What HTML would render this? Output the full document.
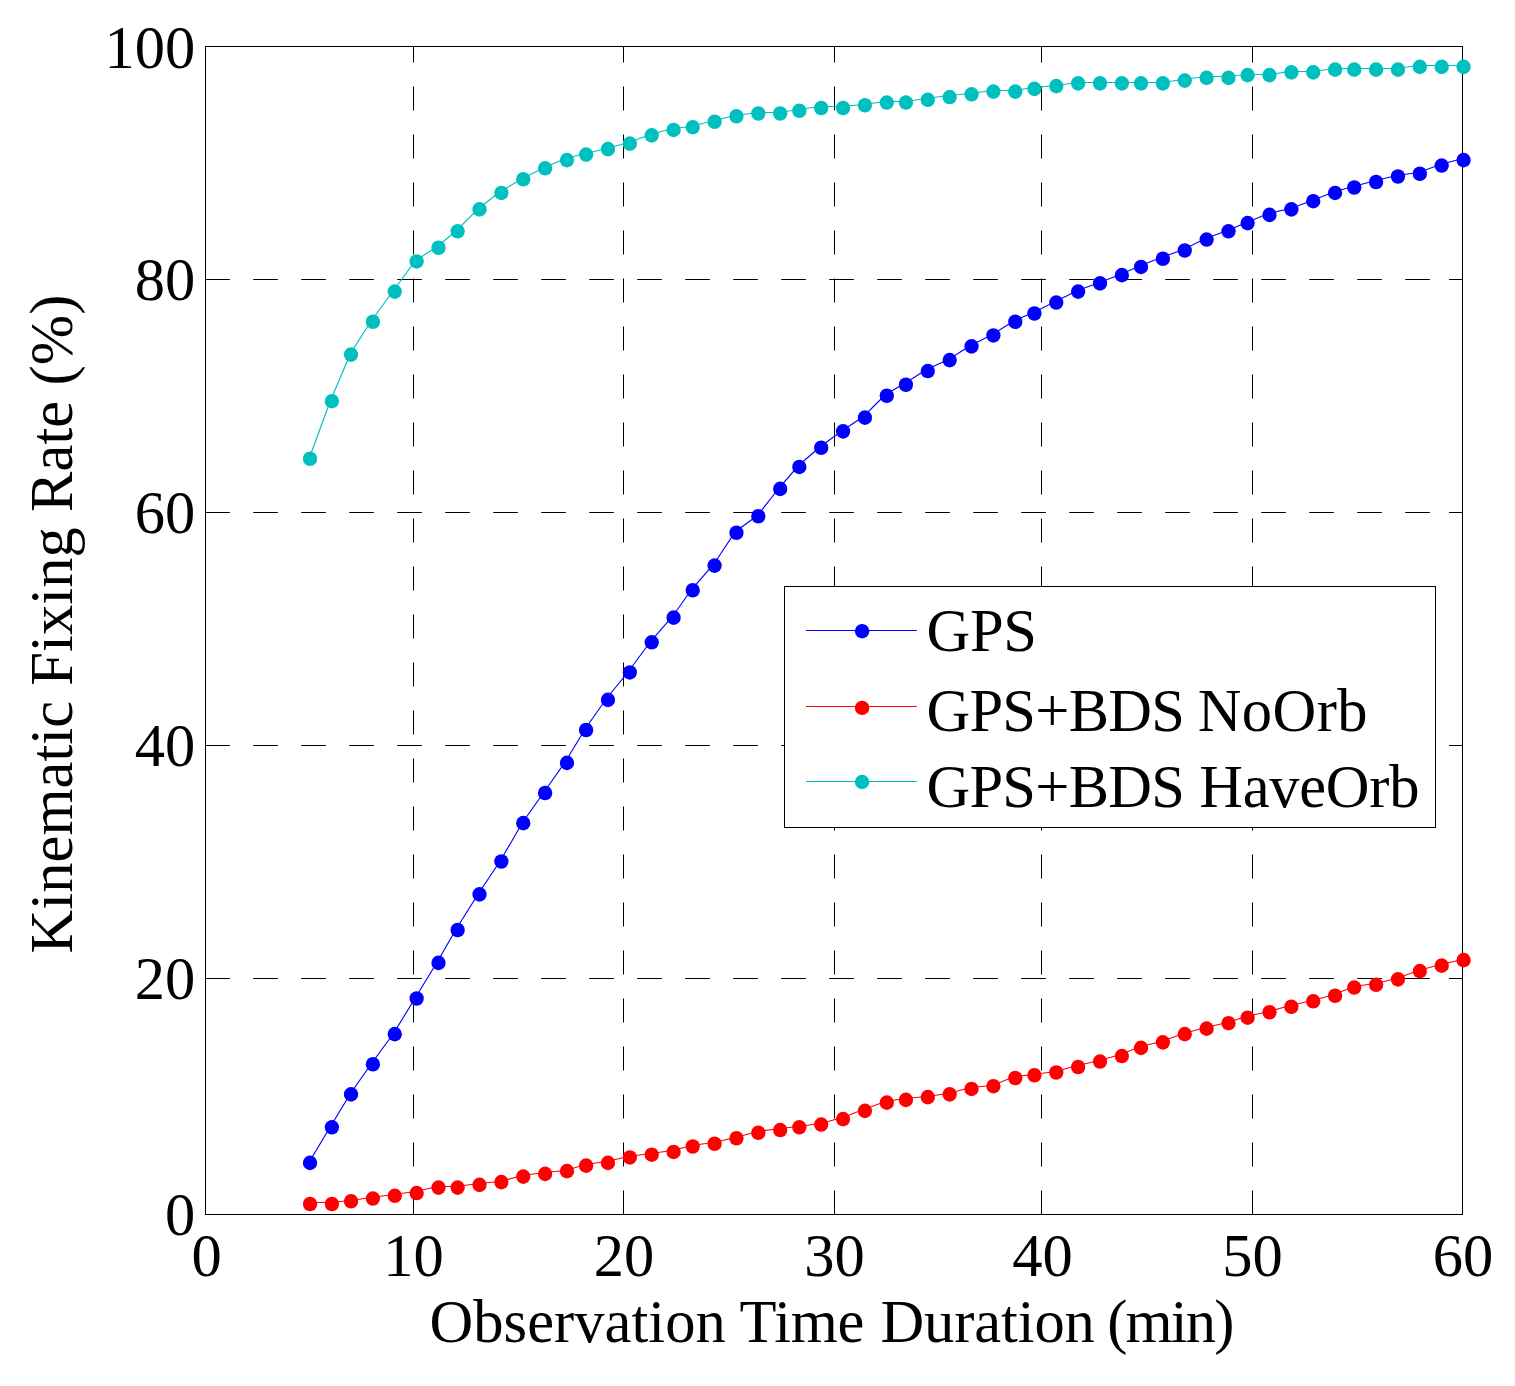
<!DOCTYPE html>
<html lang="en"><head><meta charset="utf-8"><title>Kinematic Fixing Rate</title>
<style>
html,body{margin:0;padding:0;background:#fff;}
body{width:1515px;height:1386px;overflow:hidden;}
svg{display:block;}
text{font-family:"Liberation Serif","Times New Roman",serif;fill:#000;}
</style></head><body>
<svg width="1515" height="1386" viewBox="0 0 1515 1386">
<rect x="0" y="0" width="1515" height="1386" fill="#fff"/>
<g stroke="#000" stroke-width="1" fill="none">
<line x1="413.5" y1="1214.5" x2="413.5" y2="46.5" stroke-dasharray="24 24"/>
<line x1="623.5" y1="1214.5" x2="623.5" y2="46.5" stroke-dasharray="24 24"/>
<line x1="834.5" y1="1214.5" x2="834.5" y2="46.5" stroke-dasharray="24 24"/>
<line x1="1041.5" y1="1214.5" x2="1041.5" y2="46.5" stroke-dasharray="24 24"/>
<line x1="1252.5" y1="1214.5" x2="1252.5" y2="46.5" stroke-dasharray="24 24"/>
<line x1="205.2" y1="279.5" x2="1462.5" y2="279.5" stroke-dasharray="24.7 23.3"/>
<line x1="1449" y1="279.5" x2="1462.5" y2="279.5"/>
<line x1="205.2" y1="512.5" x2="1462.5" y2="512.5" stroke-dasharray="24.7 23.3"/>
<line x1="1449" y1="512.5" x2="1462.5" y2="512.5"/>
<line x1="205.2" y1="745.5" x2="1462.5" y2="745.5" stroke-dasharray="24.7 23.3"/>
<line x1="1449" y1="745.5" x2="1462.5" y2="745.5"/>
<line x1="205.2" y1="978.5" x2="1462.5" y2="978.5" stroke-dasharray="24.7 23.3"/>
<line x1="1449" y1="978.5" x2="1462.5" y2="978.5"/>
<rect x="205.5" y="46.5" width="1257.0" height="1168.0"/>
</g>
<g font-size="60.5" text-anchor="end">
<text transform="translate(195.2 68.25) scale(1 1.03)">100</text>
<text transform="translate(195.2 300.30) scale(1 1.03)">80</text>
<text transform="translate(195.2 533.30) scale(1 1.03)">60</text>
<text transform="translate(195.2 766.30) scale(1 1.03)">40</text>
<text transform="translate(195.2 999.30) scale(1 1.03)">20</text>
<text transform="translate(195.2 1235.30) scale(1 1.03)">0</text>
</g>
<g font-size="60.5" text-anchor="middle">
<text transform="translate(206.7 1275.9) scale(1 1.03)">0</text>
<text transform="translate(413.5 1275.9) scale(1 1.03)">10</text>
<text transform="translate(624.1 1275.9) scale(1 1.03)">20</text>
<text transform="translate(834.5 1275.9) scale(1 1.03)">30</text>
<text transform="translate(1042.5 1275.9) scale(1 1.03)">40</text>
<text transform="translate(1252.5 1275.9) scale(1 1.03)">50</text>
<text transform="translate(1463.1 1275.9) scale(1 1.03)">60</text>
</g>
<text y="1342" font-size="60.5"><tspan x="429.5" textLength="296.22" lengthAdjust="spacing">Observation</tspan> <tspan x="739.6" textLength="124.86" lengthAdjust="spacing">Time</tspan> <tspan x="880.45" textLength="214.36" lengthAdjust="spacing">Duration</tspan> <tspan x="1107.25" textLength="127.22" lengthAdjust="spacing">(min)</tspan></text>
<text transform="translate(72.0 953.5) rotate(-90)" font-size="60.5" textLength="658.8" lengthAdjust="spacing">Kinematic Fixing Rate (%)</text>
<polyline points="309.5,1161.5 330.5,1126.5 350.5,1093.5 371.5,1063.5 393.5,1033.5 415.5,997.5 437.5,961.5 456.5,928.5 478.5,893.5 500.5,860.5 522.5,822.5 544.5,791.5 565.5,761.5 585.5,728.5 606.5,698.5 628.5,671.5 650.5,641.5 672.5,616.5 691.5,589.5 713.5,564.5 735.5,531.5 757.5,515.5 779.5,487.5 798.5,465.5 820.5,446.5 842.5,430.5 863.5,416.5 885.5,394.5 904.5,383.5 926.5,369.5 948.5,359.5 970.5,345.5 992.5,334.5 1014.5,320.5 1033.5,312.5 1055.5,301.5 1077.5,290.5 1099.5,282.5 1120.5,274.5 1140.5,265.5 1161.5,257.5 1183.5,249.5 1205.5,238.5 1227.5,230.5 1246.5,222.5 1268.5,213.5 1290.5,208.5 1312.5,200.5 1334.5,191.5 1353.5,186.5 1375.5,180.5 1396.5,175.5 1418.5,172.5 1440.5,164.5 1462.5,158.5" fill="none" stroke="#0000ff" stroke-width="1.15"/>
<g fill="#0000ff"><ellipse cx="310.03" cy="1162.92" rx="7.15" ry="7.3"/><ellipse cx="331.90" cy="1127.30" rx="7.15" ry="7.3"/><ellipse cx="351.03" cy="1094.42" rx="7.15" ry="7.3"/><ellipse cx="372.90" cy="1064.28" rx="7.15" ry="7.3"/><ellipse cx="394.77" cy="1034.14" rx="7.15" ry="7.3"/><ellipse cx="416.64" cy="998.52" rx="7.15" ry="7.3"/><ellipse cx="438.50" cy="962.90" rx="7.15" ry="7.3"/><ellipse cx="457.64" cy="930.02" rx="7.15" ry="7.3"/><ellipse cx="479.51" cy="894.40" rx="7.15" ry="7.3"/><ellipse cx="501.38" cy="861.52" rx="7.15" ry="7.3"/><ellipse cx="523.24" cy="823.16" rx="7.15" ry="7.3"/><ellipse cx="545.11" cy="793.02" rx="7.15" ry="7.3"/><ellipse cx="566.98" cy="762.88" rx="7.15" ry="7.3"/><ellipse cx="586.11" cy="730.00" rx="7.15" ry="7.3"/><ellipse cx="607.98" cy="699.86" rx="7.15" ry="7.3"/><ellipse cx="629.85" cy="672.46" rx="7.15" ry="7.3"/><ellipse cx="651.72" cy="642.32" rx="7.15" ry="7.3"/><ellipse cx="673.59" cy="617.66" rx="7.15" ry="7.3"/><ellipse cx="692.72" cy="590.26" rx="7.15" ry="7.3"/><ellipse cx="714.59" cy="565.60" rx="7.15" ry="7.3"/><ellipse cx="736.46" cy="532.72" rx="7.15" ry="7.3"/><ellipse cx="758.32" cy="516.28" rx="7.15" ry="7.3"/><ellipse cx="780.19" cy="488.88" rx="7.15" ry="7.3"/><ellipse cx="799.33" cy="466.96" rx="7.15" ry="7.3"/><ellipse cx="821.19" cy="447.78" rx="7.15" ry="7.3"/><ellipse cx="843.06" cy="431.34" rx="7.15" ry="7.3"/><ellipse cx="864.93" cy="417.64" rx="7.15" ry="7.3"/><ellipse cx="886.80" cy="395.72" rx="7.15" ry="7.3"/><ellipse cx="905.93" cy="384.76" rx="7.15" ry="7.3"/><ellipse cx="927.80" cy="371.06" rx="7.15" ry="7.3"/><ellipse cx="949.67" cy="360.10" rx="7.15" ry="7.3"/><ellipse cx="971.54" cy="346.40" rx="7.15" ry="7.3"/><ellipse cx="993.40" cy="335.44" rx="7.15" ry="7.3"/><ellipse cx="1015.27" cy="321.74" rx="7.15" ry="7.3"/><ellipse cx="1034.41" cy="313.52" rx="7.15" ry="7.3"/><ellipse cx="1056.28" cy="302.56" rx="7.15" ry="7.3"/><ellipse cx="1078.14" cy="291.60" rx="7.15" ry="7.3"/><ellipse cx="1100.01" cy="283.38" rx="7.15" ry="7.3"/><ellipse cx="1121.88" cy="275.16" rx="7.15" ry="7.3"/><ellipse cx="1141.01" cy="266.94" rx="7.15" ry="7.3"/><ellipse cx="1162.88" cy="258.72" rx="7.15" ry="7.3"/><ellipse cx="1184.75" cy="250.50" rx="7.15" ry="7.3"/><ellipse cx="1206.62" cy="239.54" rx="7.15" ry="7.3"/><ellipse cx="1228.49" cy="231.32" rx="7.15" ry="7.3"/><ellipse cx="1247.62" cy="223.10" rx="7.15" ry="7.3"/><ellipse cx="1269.49" cy="214.88" rx="7.15" ry="7.3"/><ellipse cx="1291.36" cy="209.40" rx="7.15" ry="7.3"/><ellipse cx="1313.22" cy="201.18" rx="7.15" ry="7.3"/><ellipse cx="1335.09" cy="192.96" rx="7.15" ry="7.3"/><ellipse cx="1354.23" cy="187.48" rx="7.15" ry="7.3"/><ellipse cx="1376.09" cy="182.00" rx="7.15" ry="7.3"/><ellipse cx="1397.96" cy="176.52" rx="7.15" ry="7.3"/><ellipse cx="1419.83" cy="173.78" rx="7.15" ry="7.3"/><ellipse cx="1441.70" cy="165.56" rx="7.15" ry="7.3"/><ellipse cx="1463.57" cy="160.08" rx="7.15" ry="7.3"/></g>
<polyline points="309.5,1202.5 330.5,1202.5 350.5,1200.5 371.5,1197.5 393.5,1194.5 415.5,1191.5 437.5,1186.5 456.5,1186.5 478.5,1183.5 500.5,1181.5 522.5,1175.5 544.5,1172.5 565.5,1170.5 585.5,1164.5 606.5,1161.5 628.5,1156.5 650.5,1153.5 672.5,1150.5 691.5,1145.5 713.5,1142.5 735.5,1137.5 757.5,1131.5 779.5,1128.5 798.5,1126.5 820.5,1123.5 842.5,1117.5 863.5,1109.5 885.5,1101.5 904.5,1098.5 926.5,1096.5 948.5,1093.5 970.5,1087.5 992.5,1085.5 1014.5,1076.5 1033.5,1074.5 1055.5,1071.5 1077.5,1065.5 1099.5,1060.5 1120.5,1054.5 1140.5,1046.5 1161.5,1041.5 1183.5,1033.5 1205.5,1027.5 1227.5,1022.5 1246.5,1016.5 1268.5,1011.5 1290.5,1005.5 1312.5,1000.5 1334.5,994.5 1353.5,986.5 1375.5,983.5 1396.5,978.5 1418.5,970.5 1440.5,964.5 1462.5,959.5" fill="none" stroke="#ff0000" stroke-width="1.15"/>
<g fill="#ff0000"><ellipse cx="310.03" cy="1204.02" rx="7.15" ry="7.3"/><ellipse cx="331.90" cy="1204.02" rx="7.15" ry="7.3"/><ellipse cx="351.03" cy="1201.28" rx="7.15" ry="7.3"/><ellipse cx="372.90" cy="1198.54" rx="7.15" ry="7.3"/><ellipse cx="394.77" cy="1195.80" rx="7.15" ry="7.3"/><ellipse cx="416.64" cy="1193.06" rx="7.15" ry="7.3"/><ellipse cx="438.50" cy="1187.58" rx="7.15" ry="7.3"/><ellipse cx="457.64" cy="1187.58" rx="7.15" ry="7.3"/><ellipse cx="479.51" cy="1184.84" rx="7.15" ry="7.3"/><ellipse cx="501.38" cy="1182.10" rx="7.15" ry="7.3"/><ellipse cx="523.24" cy="1176.62" rx="7.15" ry="7.3"/><ellipse cx="545.11" cy="1173.88" rx="7.15" ry="7.3"/><ellipse cx="566.98" cy="1171.14" rx="7.15" ry="7.3"/><ellipse cx="586.11" cy="1165.66" rx="7.15" ry="7.3"/><ellipse cx="607.98" cy="1162.92" rx="7.15" ry="7.3"/><ellipse cx="629.85" cy="1157.44" rx="7.15" ry="7.3"/><ellipse cx="651.72" cy="1154.70" rx="7.15" ry="7.3"/><ellipse cx="673.59" cy="1151.96" rx="7.15" ry="7.3"/><ellipse cx="692.72" cy="1146.48" rx="7.15" ry="7.3"/><ellipse cx="714.59" cy="1143.74" rx="7.15" ry="7.3"/><ellipse cx="736.46" cy="1138.26" rx="7.15" ry="7.3"/><ellipse cx="758.32" cy="1132.78" rx="7.15" ry="7.3"/><ellipse cx="780.19" cy="1130.04" rx="7.15" ry="7.3"/><ellipse cx="799.33" cy="1127.30" rx="7.15" ry="7.3"/><ellipse cx="821.19" cy="1124.56" rx="7.15" ry="7.3"/><ellipse cx="843.06" cy="1119.08" rx="7.15" ry="7.3"/><ellipse cx="864.93" cy="1110.86" rx="7.15" ry="7.3"/><ellipse cx="886.80" cy="1102.64" rx="7.15" ry="7.3"/><ellipse cx="905.93" cy="1099.90" rx="7.15" ry="7.3"/><ellipse cx="927.80" cy="1097.16" rx="7.15" ry="7.3"/><ellipse cx="949.67" cy="1094.42" rx="7.15" ry="7.3"/><ellipse cx="971.54" cy="1088.94" rx="7.15" ry="7.3"/><ellipse cx="993.40" cy="1086.20" rx="7.15" ry="7.3"/><ellipse cx="1015.27" cy="1077.98" rx="7.15" ry="7.3"/><ellipse cx="1034.41" cy="1075.24" rx="7.15" ry="7.3"/><ellipse cx="1056.28" cy="1072.50" rx="7.15" ry="7.3"/><ellipse cx="1078.14" cy="1067.02" rx="7.15" ry="7.3"/><ellipse cx="1100.01" cy="1061.54" rx="7.15" ry="7.3"/><ellipse cx="1121.88" cy="1056.06" rx="7.15" ry="7.3"/><ellipse cx="1141.01" cy="1047.84" rx="7.15" ry="7.3"/><ellipse cx="1162.88" cy="1042.36" rx="7.15" ry="7.3"/><ellipse cx="1184.75" cy="1034.14" rx="7.15" ry="7.3"/><ellipse cx="1206.62" cy="1028.66" rx="7.15" ry="7.3"/><ellipse cx="1228.49" cy="1023.18" rx="7.15" ry="7.3"/><ellipse cx="1247.62" cy="1017.70" rx="7.15" ry="7.3"/><ellipse cx="1269.49" cy="1012.22" rx="7.15" ry="7.3"/><ellipse cx="1291.36" cy="1006.74" rx="7.15" ry="7.3"/><ellipse cx="1313.22" cy="1001.26" rx="7.15" ry="7.3"/><ellipse cx="1335.09" cy="995.78" rx="7.15" ry="7.3"/><ellipse cx="1354.23" cy="987.56" rx="7.15" ry="7.3"/><ellipse cx="1376.09" cy="984.82" rx="7.15" ry="7.3"/><ellipse cx="1397.96" cy="979.34" rx="7.15" ry="7.3"/><ellipse cx="1419.83" cy="971.12" rx="7.15" ry="7.3"/><ellipse cx="1441.70" cy="965.64" rx="7.15" ry="7.3"/><ellipse cx="1463.57" cy="960.16" rx="7.15" ry="7.3"/></g>
<polyline points="309.5,457.5 330.5,400.5 350.5,353.5 371.5,320.5 393.5,290.5 415.5,260.5 437.5,246.5 456.5,230.5 478.5,208.5 500.5,191.5 522.5,178.5 544.5,167.5 565.5,158.5 585.5,153.5 606.5,148.5 628.5,142.5 650.5,134.5 672.5,128.5 691.5,126.5 713.5,120.5 735.5,115.5 757.5,112.5 779.5,112.5 798.5,109.5 820.5,106.5 842.5,106.5 863.5,104.5 885.5,101.5 904.5,101.5 926.5,98.5 948.5,95.5 970.5,93.5 992.5,90.5 1014.5,90.5 1033.5,87.5 1055.5,85.5 1077.5,82.5 1099.5,82.5 1120.5,82.5 1140.5,82.5 1161.5,82.5 1183.5,79.5 1205.5,76.5 1227.5,76.5 1246.5,74.5 1268.5,74.5 1290.5,71.5 1312.5,71.5 1334.5,68.5 1353.5,68.5 1375.5,68.5 1396.5,68.5 1418.5,65.5 1440.5,65.5 1462.5,65.5" fill="none" stroke="#00bfbf" stroke-width="1.15"/>
<g fill="#00bfbf"><ellipse cx="310.03" cy="458.74" rx="7.15" ry="7.3"/><ellipse cx="331.90" cy="401.20" rx="7.15" ry="7.3"/><ellipse cx="351.03" cy="354.62" rx="7.15" ry="7.3"/><ellipse cx="372.90" cy="321.74" rx="7.15" ry="7.3"/><ellipse cx="394.77" cy="291.60" rx="7.15" ry="7.3"/><ellipse cx="416.64" cy="261.46" rx="7.15" ry="7.3"/><ellipse cx="438.50" cy="247.76" rx="7.15" ry="7.3"/><ellipse cx="457.64" cy="231.32" rx="7.15" ry="7.3"/><ellipse cx="479.51" cy="209.40" rx="7.15" ry="7.3"/><ellipse cx="501.38" cy="192.96" rx="7.15" ry="7.3"/><ellipse cx="523.24" cy="179.26" rx="7.15" ry="7.3"/><ellipse cx="545.11" cy="168.30" rx="7.15" ry="7.3"/><ellipse cx="566.98" cy="160.08" rx="7.15" ry="7.3"/><ellipse cx="586.11" cy="154.60" rx="7.15" ry="7.3"/><ellipse cx="607.98" cy="149.12" rx="7.15" ry="7.3"/><ellipse cx="629.85" cy="143.64" rx="7.15" ry="7.3"/><ellipse cx="651.72" cy="135.42" rx="7.15" ry="7.3"/><ellipse cx="673.59" cy="129.94" rx="7.15" ry="7.3"/><ellipse cx="692.72" cy="127.20" rx="7.15" ry="7.3"/><ellipse cx="714.59" cy="121.72" rx="7.15" ry="7.3"/><ellipse cx="736.46" cy="116.24" rx="7.15" ry="7.3"/><ellipse cx="758.32" cy="113.50" rx="7.15" ry="7.3"/><ellipse cx="780.19" cy="113.50" rx="7.15" ry="7.3"/><ellipse cx="799.33" cy="110.76" rx="7.15" ry="7.3"/><ellipse cx="821.19" cy="108.02" rx="7.15" ry="7.3"/><ellipse cx="843.06" cy="108.02" rx="7.15" ry="7.3"/><ellipse cx="864.93" cy="105.28" rx="7.15" ry="7.3"/><ellipse cx="886.80" cy="102.54" rx="7.15" ry="7.3"/><ellipse cx="905.93" cy="102.54" rx="7.15" ry="7.3"/><ellipse cx="927.80" cy="99.80" rx="7.15" ry="7.3"/><ellipse cx="949.67" cy="97.06" rx="7.15" ry="7.3"/><ellipse cx="971.54" cy="94.32" rx="7.15" ry="7.3"/><ellipse cx="993.40" cy="91.58" rx="7.15" ry="7.3"/><ellipse cx="1015.27" cy="91.58" rx="7.15" ry="7.3"/><ellipse cx="1034.41" cy="88.84" rx="7.15" ry="7.3"/><ellipse cx="1056.28" cy="86.10" rx="7.15" ry="7.3"/><ellipse cx="1078.14" cy="83.36" rx="7.15" ry="7.3"/><ellipse cx="1100.01" cy="83.36" rx="7.15" ry="7.3"/><ellipse cx="1121.88" cy="83.36" rx="7.15" ry="7.3"/><ellipse cx="1141.01" cy="83.36" rx="7.15" ry="7.3"/><ellipse cx="1162.88" cy="83.36" rx="7.15" ry="7.3"/><ellipse cx="1184.75" cy="80.62" rx="7.15" ry="7.3"/><ellipse cx="1206.62" cy="77.88" rx="7.15" ry="7.3"/><ellipse cx="1228.49" cy="77.88" rx="7.15" ry="7.3"/><ellipse cx="1247.62" cy="75.14" rx="7.15" ry="7.3"/><ellipse cx="1269.49" cy="75.14" rx="7.15" ry="7.3"/><ellipse cx="1291.36" cy="72.40" rx="7.15" ry="7.3"/><ellipse cx="1313.22" cy="72.40" rx="7.15" ry="7.3"/><ellipse cx="1335.09" cy="69.66" rx="7.15" ry="7.3"/><ellipse cx="1354.23" cy="69.66" rx="7.15" ry="7.3"/><ellipse cx="1376.09" cy="69.66" rx="7.15" ry="7.3"/><ellipse cx="1397.96" cy="69.66" rx="7.15" ry="7.3"/><ellipse cx="1419.83" cy="66.92" rx="7.15" ry="7.3"/><ellipse cx="1441.70" cy="66.92" rx="7.15" ry="7.3"/><ellipse cx="1463.57" cy="66.92" rx="7.15" ry="7.3"/></g>
<g>
<rect x="784.5" y="586.5" width="651" height="241" fill="#fff" stroke="#000" stroke-width="1"/>
<line x1="806.0" y1="630.5" x2="916.8" y2="630.5" stroke="#0000ff" stroke-width="1.15"/><circle cx="862.1" cy="631.2" r="7.2" fill="#0000ff"/><text y="650.8" font-size="60.5"><tspan x="926.5" textLength="110.45" lengthAdjust="spacing">GPS</tspan></text>
<line x1="806.0" y1="706.5" x2="916.8" y2="706.5" stroke="#ff0000" stroke-width="1.15"/><circle cx="862.1" cy="707.9" r="7.2" fill="#ff0000"/><text y="730.9" font-size="60.5"><tspan x="926.4" textLength="258.6" lengthAdjust="spacing">GPS+BDS</tspan> <tspan x="1197.65" textLength="169.83" lengthAdjust="spacing">NoOrb</tspan></text>
<line x1="806.0" y1="781.5" x2="916.8" y2="781.5" stroke="#00bfbf" stroke-width="1.15"/><circle cx="862.1" cy="782.0" r="7.2" fill="#00bfbf"/><text y="806.9" font-size="60.5"><tspan x="926.4" textLength="258.6" lengthAdjust="spacing">GPS+BDS</tspan> <tspan x="1199.25" textLength="220.2" lengthAdjust="spacing">HaveOrb</tspan></text>
</g>
</svg>
</body></html>
